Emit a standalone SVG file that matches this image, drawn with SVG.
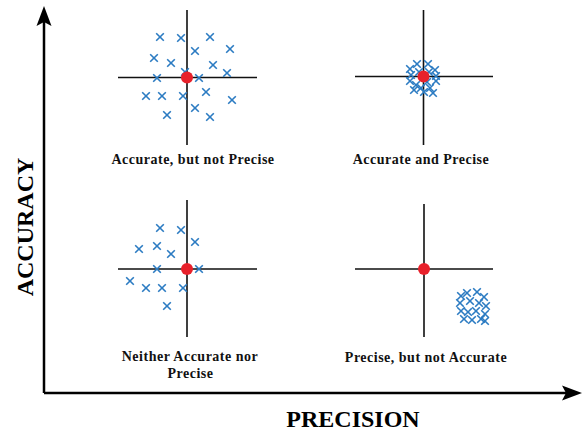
<svg xmlns="http://www.w3.org/2000/svg" xmlns:xlink="http://www.w3.org/1999/xlink" width="584" height="431" viewBox="0 0 584 431">
<style>
.axis{stroke:#000;stroke-width:2.5;fill:none}
.cross-line{stroke:#111;stroke-width:1.6;fill:none}
.dot{fill:#e8212b}
.lbl{font-family:"Liberation Serif","Times New Roman",serif;font-weight:bold;font-size:14px;letter-spacing:0.5px;fill:#111;text-anchor:middle}
.big{font-family:"Liberation Serif","Times New Roman",serif;font-weight:bold;font-size:24px;fill:#000;text-anchor:middle}
</style>
<defs>
<marker id="arrow" markerUnits="userSpaceOnUse" viewBox="0 -8 20 16" refX="10" refY="0" markerWidth="20" markerHeight="16" orient="auto">
<path d="M0,-7.5 L20,0 L0,7.5 L4,0 z" fill="#000"/>
</marker>
<path id="x" d="M-3.8,-3.8 L3.8,3.8 M-3.8,3.8 L3.8,-3.8" stroke="#2b7bc2" stroke-width="1.6" fill="none"/>
</defs>
<rect width="584" height="431" fill="#fff"/>
<g id="connectors">
<path class="axis" d="M44,393 L44,16" marker-end="url(#arrow)"/>
<path class="axis" d="M44,393 L572,393" marker-end="url(#arrow)"/>
</g>
<g id="axis-labels">
<text class="big" x="353" y="427">PRECISION</text>
<text class="big" transform="translate(33,227) rotate(-90)">ACCURACY</text>
</g>
<g id="accurate-not-precise">
<path class="cross-line" d="M118,77.5 H257 M187,10 V145"/>
<use xlink:href="#x" x="160" y="37"/>
<use xlink:href="#x" x="181" y="38"/>
<use xlink:href="#x" x="210" y="37"/>
<use xlink:href="#x" x="195" y="51"/>
<use xlink:href="#x" x="230" y="49"/>
<use xlink:href="#x" x="154" y="58"/>
<use xlink:href="#x" x="171" y="63"/>
<use xlink:href="#x" x="213" y="65"/>
<use xlink:href="#x" x="185" y="72"/>
<use xlink:href="#x" x="227" y="73"/>
<use xlink:href="#x" x="157" y="78"/>
<use xlink:href="#x" x="199" y="78"/>
<use xlink:href="#x" x="146" y="96"/>
<use xlink:href="#x" x="162" y="96"/>
<use xlink:href="#x" x="183" y="96"/>
<use xlink:href="#x" x="206" y="92"/>
<use xlink:href="#x" x="232" y="100"/>
<use xlink:href="#x" x="195" y="108"/>
<use xlink:href="#x" x="167" y="115"/>
<use xlink:href="#x" x="210" y="117"/>
<circle class="dot" cx="187" cy="77.5" r="6"/>
<text class="lbl" x="193" y="164">Accurate, but not Precise</text>
</g>
<g id="accurate-and-precise">
<path class="cross-line" d="M355,76.5 H493 M423.5,10 V145"/>
<use xlink:href="#x" x="410" y="69"/>
<use xlink:href="#x" x="417" y="64"/>
<use xlink:href="#x" x="428" y="64"/>
<use xlink:href="#x" x="435" y="70"/>
<use xlink:href="#x" x="411" y="75"/>
<use xlink:href="#x" x="436" y="76"/>
<use xlink:href="#x" x="410" y="81"/>
<use xlink:href="#x" x="416" y="85"/>
<use xlink:href="#x" x="427" y="82"/>
<use xlink:href="#x" x="436" y="81"/>
<use xlink:href="#x" x="414" y="90"/>
<use xlink:href="#x" x="421" y="88"/>
<use xlink:href="#x" x="430" y="88"/>
<use xlink:href="#x" x="433" y="93"/>
<use xlink:href="#x" x="419" y="72"/>
<use xlink:href="#x" x="429" y="72"/>
<use xlink:href="#x" x="424" y="92"/>
<circle class="dot" cx="423.5" cy="76.5" r="6"/>
<text class="lbl" x="421" y="164">Accurate and Precise</text>
</g>
<g id="neither">
<path class="cross-line" d="M118,269 H257 M187,200 V337"/>
<use xlink:href="#x" x="160" y="228"/>
<use xlink:href="#x" x="181" y="230"/>
<use xlink:href="#x" x="195" y="242"/>
<use xlink:href="#x" x="139" y="249"/>
<use xlink:href="#x" x="157" y="246"/>
<use xlink:href="#x" x="171" y="254"/>
<use xlink:href="#x" x="157" y="269"/>
<use xlink:href="#x" x="199" y="269"/>
<use xlink:href="#x" x="130" y="281"/>
<use xlink:href="#x" x="146" y="288"/>
<use xlink:href="#x" x="162" y="288"/>
<use xlink:href="#x" x="183" y="288"/>
<use xlink:href="#x" x="167" y="306"/>
<circle class="dot" cx="187" cy="269" r="6"/>
<text class="lbl" x="190" y="361">Neither Accurate nor</text>
<text class="lbl" x="190.5" y="378">Precise</text>
</g>
<g id="precise-not-accurate">
<path class="cross-line" d="M355,269 H493 M424,204 V337"/>
<use xlink:href="#x" x="461" y="296"/>
<use xlink:href="#x" x="467" y="293"/>
<use xlink:href="#x" x="477" y="292"/>
<use xlink:href="#x" x="484" y="297"/>
<use xlink:href="#x" x="460" y="303"/>
<use xlink:href="#x" x="470" y="301"/>
<use xlink:href="#x" x="479" y="303"/>
<use xlink:href="#x" x="486" y="306"/>
<use xlink:href="#x" x="461" y="311"/>
<use xlink:href="#x" x="468" y="312"/>
<use xlink:href="#x" x="476" y="311"/>
<use xlink:href="#x" x="485" y="314"/>
<use xlink:href="#x" x="464" y="319"/>
<use xlink:href="#x" x="472" y="320"/>
<use xlink:href="#x" x="481" y="319"/>
<use xlink:href="#x" x="485" y="321"/>
<text class="lbl" x="426" y="362">Precise, but not Accurate</text>
<circle class="dot" cx="424" cy="269" r="6"/>
</g>
</svg>
